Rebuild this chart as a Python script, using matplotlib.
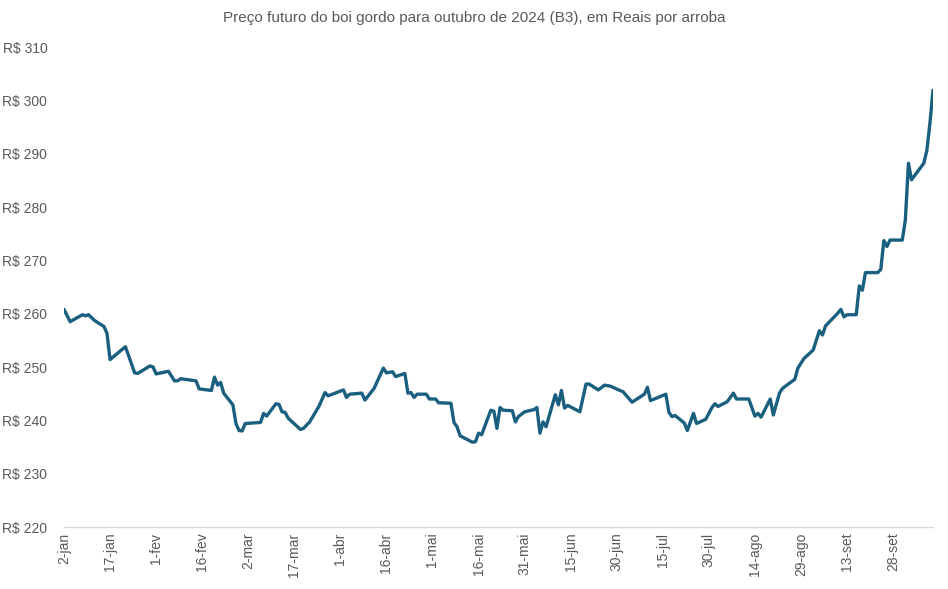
import pandas as pd
import matplotlib
matplotlib.use("Agg")
import matplotlib.pyplot as plt

# preço futuro do boi gordo (out/24), R$ por arroba
datas = [
    "01-02", "01-04", "01-08", "01-09", "01-10", "01-12", "01-15", "01-16", "01-17", "01-22",
    "01-23", "01-25", "01-26", "01-30", "01-31", "02-01", "02-05", "02-07", "02-08", "02-09",
    "02-14", "02-15", "02-19", "02-20", "02-21", "02-22", "02-23", "02-26", "02-27", "02-28",
    "02-29", "03-01", "03-06", "03-07", "03-08", "03-11", "03-12", "03-13", "03-14", "03-15",
    "03-19", "03-20", "03-22", "03-25", "03-27", "03-28", "04-02", "04-03", "04-04", "04-08",
    "04-09", "04-12", "04-15", "04-16", "04-18", "04-19", "04-22", "04-23", "04-24", "04-25",
    "04-26", "04-29", "04-30", "05-02", "05-03", "05-07", "05-08", "05-09", "05-10", "05-14",
    "05-15", "05-16", "05-17", "05-20", "05-21", "05-22", "05-23", "05-24", "05-27", "05-28",
    "05-29", "05-31", "06-03", "06-04", "06-05", "06-06", "06-07", "06-10", "06-11", "06-12",
    "06-13", "06-14", "06-18", "06-20", "06-21", "06-24", "06-26", "06-28", "07-01", "07-02",
    "07-05", "07-09", "07-10", "07-11", "07-16", "07-17", "07-18", "07-19", "07-22", "07-23",
    "07-25", "07-26", "07-29", "07-31", "08-01", "08-02", "08-05", "08-07", "08-08", "08-12",
    "08-14", "08-15", "08-16", "08-19", "08-20", "08-22", "08-23", "08-27", "08-28", "08-30",
    "09-02", "09-04", "09-05", "09-06", "09-10", "09-11", "09-12", "09-13", "09-16", "09-17",
    "09-18", "09-19", "09-23", "09-24", "09-25", "09-26", "09-27", "10-01", "10-02", "10-03",
    "10-04", "10-08", "10-09", "10-10", "10-11",
]
precos = [
    260.8, 258.5, 259.8, 259.6, 259.8, 258.7, 257.6, 256.3, 251.4, 253.8,
    252.2, 248.9, 248.8, 250.2, 250.0, 248.7, 249.2, 247.4, 247.4, 247.8,
    247.4, 245.9, 245.6, 248.1, 246.6, 247.1, 245.1, 242.9, 239.4, 238.1,
    238.0, 239.4, 239.6, 241.3, 240.8, 243.1, 243.0, 241.6, 241.5, 240.4,
    238.3, 238.5, 239.7, 242.6, 245.2, 244.6, 245.7, 244.3, 244.9, 245.1,
    243.8, 246.0, 249.8, 248.9, 249.1, 248.2, 248.8, 245.1, 245.2, 244.3,
    244.9, 244.9, 244.0, 244.0, 243.3, 243.2, 239.6, 238.8, 237.1, 235.9,
    236.0, 237.6, 237.3, 241.9, 241.7, 238.5, 242.4, 241.9, 241.8, 239.7,
    240.7, 241.6, 242.0, 242.4, 237.6, 239.7, 238.8, 244.8, 242.9, 245.6,
    242.3, 242.8, 241.6, 246.8, 246.8, 245.7, 246.6, 246.4, 245.6, 245.4,
    243.4, 244.9, 246.2, 243.7, 244.9, 241.5, 240.7, 240.9, 239.5, 238.1,
    241.3, 239.4, 240.2, 242.4, 243.1, 242.6, 243.5, 245.1, 244.0, 244.0,
    240.8, 241.3, 240.6, 244.0, 241.0, 245.1, 246.0, 247.7, 249.8, 251.6,
    253.2, 256.8, 256.0, 257.7, 260.1, 260.8, 259.4, 259.8, 259.8, 265.2,
    264.4, 267.7, 267.7, 268.3, 273.7, 272.6, 273.8, 273.8, 277.6, 288.2,
    285.1, 288.2, 290.6, 295.7, 301.9,
]
meses = ["jan", "fev", "mar", "abr", "mai", "jun", "jul", "ago", "set", "out", "nov", "dez"]

df = pd.DataFrame({"data": pd.to_datetime(["2024-" + d for d in datas]), "preco": precos})

cinza = "#595959"
fig = plt.figure(figsize=(9.48, 5.89), dpi=100)
ax = fig.add_axes([64 / 948, 1 - 527 / 589, (933 - 64) / 948, (527 - 47) / 589])

ax.plot(df["data"], df["preco"], color="#1a5f80", linewidth=2.4, solid_capstyle="round")

# eixo x em datas, marcas a cada 15 dias
ticks = pd.date_range("2024-01-02", "2024-10-11", freq="15D")
ax.set_xticks(ticks)
ax.set_xticklabels([f"{t.day}-{meses[t.month - 1]}" for t in ticks], rotation=90,
                   fontsize=10, color=cinza, family="Liberation Sans")
ax.set_xlim(pd.Timestamp("2024-01-02"), pd.Timestamp("2024-10-11"))

ax.set_ylim(220, 310)
yt = list(range(220, 311, 10))
ax.set_yticks(yt)
ax.set_yticklabels([f"R$ {v}" for v in yt], fontsize=10, color=cinza, family="Liberation Sans")

for s in ["top", "right", "left"]:
    ax.spines[s].set_visible(False)
ax.spines["bottom"].set_color("#d9d9d9")
ax.spines["bottom"].set_linewidth(1)
ax.tick_params(axis="both", length=0)
ax.tick_params(axis="y", pad=12)
ax.tick_params(axis="x", pad=4)

fig.text(474 / 948, 1 - 18 / 589, "Preço futuro do boi gordo para outubro de 2024 (B3), em Reais por arroba",
         ha="center", va="center", fontsize=11, color=cinza, family="Liberation Sans")

fig.savefig("out.png", dpi=100)
